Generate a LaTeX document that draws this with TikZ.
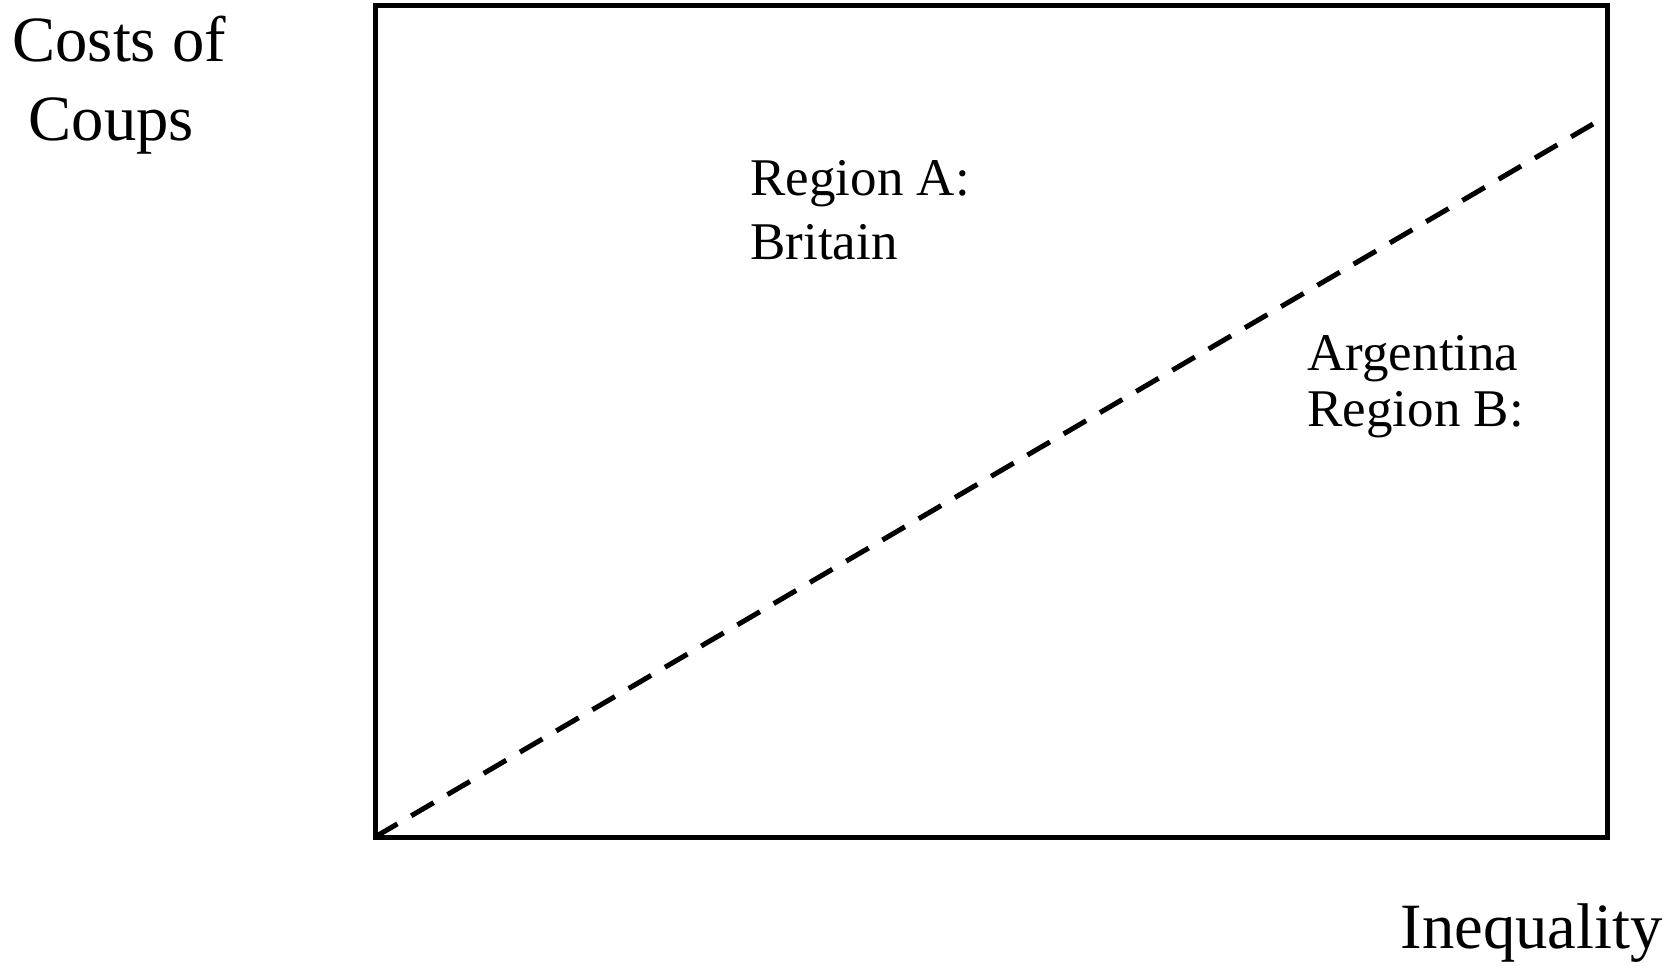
\documentclass[tikz,border=0pt]{standalone}
\usepackage{fontspec}
\setmainfont{Liberation Serif}
\begin{document}
\begin{tikzpicture}[x=0.5pt,y=0.5pt,line join=miter,line width=2.5pt]
	\tikzset{every node/.style={inner sep=0pt},
		axlabel/.style={font=\fontsize{32.3}{39.5}\selectfont,align=left},
		reglabel/.style={font=\fontsize{26.5}{30}\selectfont,align=left}}
	\useasboundingbox (0,0) rectangle (1665,966);
	\coordinate (O) at (375,129);
	\coordinate (C) at (1607,960);
	\coordinate (T) at (1593,842);
	\draw (O) rectangle (C);
	\draw[dash pattern=on 13pt off 8pt] (O)--(T);
	\node[axlabel,anchor=north west] (costs) at (10,952) {Costs of\\~Coups};
	\node[axlabel,anchor=base west] (ineq) at (1398,18) {Inequality};
	\node[reglabel,anchor=north west,font=\fontsize{26.5}{32}\selectfont] (regA) at (748,808) {Region A:\\Britain};
	\node[reglabel,anchor=north west,font=\fontsize{26.5}{28}\selectfont] (regB) at (1305,633) {Argentina\\Region B:};
\end{tikzpicture}
\end{document}
